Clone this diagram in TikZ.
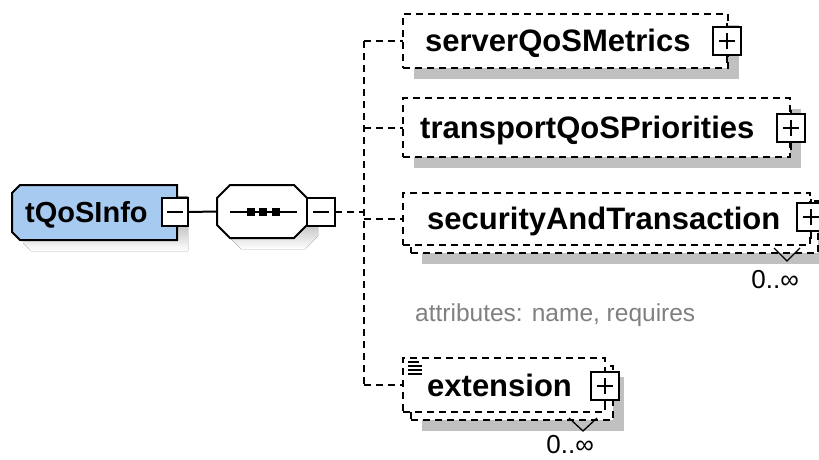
\documentclass[tikz,border=0pt]{standalone}
\usepackage{fontspec}
\setmainfont{Liberation Sans}
\usetikzlibrary{calc}
\definecolor{shade}{HTML}{C0C0C0}
\definecolor{typefill}{HTML}{A6CAF0}
\definecolor{attrgray}{HTML}{808080}

\tikzset{
  solidline/.style={line width=2pt},
  dashline/.style={line width=2pt, dash pattern=on 7pt off 5pt},
  elembox/.style={draw, fill=white, line width=2pt, dash pattern=on 7pt off 5pt,
    inner sep=0pt, outer sep=0pt, anchor=north west},
  shadowbox/.style={fill=shade, draw=none, inner sep=0pt, outer sep=0pt, anchor=north west},
  anchorbox/.style={inner sep=0pt, outer sep=0pt, anchor=north west},
  elemname/.style={font=\fontsize{31}{31}\selectfont\bfseries, inner sep=0pt, anchor=base west},
  occurs/.style={font=\fontsize{26}{26}\selectfont, inner sep=0pt, anchor=base east},
  attrnote/.style={font=\fontsize{24.5}{24.5}\selectfont, text=attrgray, inner sep=0pt, anchor=base west},
  togglebox/.style={draw, fill=white, line width=2pt, minimum width=28pt, minimum height=28pt,
    inner sep=0pt, outer sep=0pt},
  markline/.style={line width=1.3pt},
}

% expand marker: box with a plus and short stubs above and below
\newcommand{\plusmark}[2]{%
  \node[togglebox] (#1) at (#2) {};
  \draw[solidline] ([yshift=4pt]#1.north) -- (#1.north);
  \draw[solidline] (#1.south) -- ([yshift=-8pt]#1.south);
  \draw[solidline] ([xshift=-8pt]#1.center) -- ([xshift=8pt]#1.center);
  \draw[solidline] ([yshift=-8pt]#1.center) -- ([yshift=8pt]#1.center);
}

\begin{document}
\begin{tikzpicture}[x=1pt,y=-1pt]
\useasboundingbox (0,0) rectangle (819,460);
\fill[white] (0,0) rectangle (819,460);

% ---- shadows ----
\fill[shade] (31,196) -- (188,196) -- (188,251) -- (31,251) -- (23,243) -- (23,204) -- cycle;
\fill[shade] (241,196) -- (305,196) -- (318,209) -- (318,236) -- (305,249) -- (241,249) -- (228,236) -- (228,209) -- cycle;
\node[shadowbox, minimum width=325pt, minimum height=54pt] (srvsh) at (414,25) {};
\node[shadowbox, minimum width=387pt, minimum height=59pt] (trash) at (414,109) {};
\node[shadowbox, minimum width=407pt, minimum height=52pt] (secsh) at (422,212) {};
\node[shadowbox, minimum width=202pt, minimum height=54pt] (extsh) at (422,377) {};

% ---- complex type tQoSInfo ----
\node[anchorbox, minimum width=165pt, minimum height=55pt] (tq) at (12,185) {};
\draw[solidline, fill=typefill] (20,185) -- (177,185) -- (177,240) -- (20,240) -- (12,232) -- (12,193) -- cycle;
\node[font=\fontsize{29}{29}\selectfont\bfseries, inner sep=0pt, anchor=base west] (tqname) at (25,222) {tQoSInfo};
\node[togglebox, minimum width=26pt] (tqm) at (175,212) {};
\draw[solidline] ([xshift=-8pt]tqm.center) -- ([xshift=8pt]tqm.center);

% ---- sequence compositor ----
\node[anchorbox, minimum width=90pt, minimum height=53pt] (seq) at (217,185) {};
\draw[solidline, fill=white] (230,185) -- (294,185) -- (307,198) -- (307,225) -- (294,238) -- (230,238) -- (217,225) -- (217,198) -- cycle;
\draw[solidline] (230,212) -- (297,212);
\foreach \cx in {251,263,276} \fill (\cx-4,208) rectangle (\cx+4,216);
\node[togglebox] (seqm) at (321,212) {};
\draw[solidline] ([xshift=-8pt]seqm.center) -- ([xshift=8pt]seqm.center);

\draw[solidline] (tqm.east) -- (seq.west);

% ---- element boxes (anchors for connectors) ----
\node[anchorbox, minimum width=325pt, minimum height=54pt] (srv) at (403,14) {};
\node[anchorbox, minimum width=387pt, minimum height=59pt] (tra) at (403,98) {};
\node[anchorbox, minimum width=407pt, minimum height=52pt] (sec) at (403,193) {};
\node[anchorbox, minimum width=202pt, minimum height=54pt] (ext) at (403,358) {};

% ---- connectors ----
\coordinate (trunk) at (364,0);
\draw[dashline] (srv.west -| trunk) -- (ext.west -| trunk);
\draw[dashline] (seqm.east) -- (seqm.east -| trunk);
\draw[dashline] (srv.west -| trunk) -- (srv.west);
\draw[dashline] (tra.west -| trunk) -- (tra.west);
\draw[dashline] (sec.west -| trunk) -- (sec.west);
\draw[dashline] (ext.west -| trunk) -- (ext.west);

% ---- serverQoSMetrics ----
\node[elembox, minimum width=325pt, minimum height=54pt] (srvbox) at (403,14) {};
\node[elemname] (srvname) at (425,52) {serverQoSMetrics};
\plusmark{srvp}{727,41}

% ---- transportQoSPriorities ----
\node[elembox, minimum width=387pt, minimum height=59pt] (trabox) at (403,98) {};
\node[elemname] (traname) at (420,138) {transportQoSPriorities};
\plusmark{trap}{791,128}

% ---- securityAndTransaction (repeating) ----
\node[elembox, minimum width=407pt, minimum height=52pt] (secback) at (411,201) {};
\node[elembox, minimum width=407pt, minimum height=52pt] (secbox) at (403,193) {};
\node[elemname] (secname) at (427,229) {securityAndTransaction};
\plusmark{secp}{811,217}
\draw[markline] (774,248) -- (787,261) -- (800,248);
\node[occurs] (secocc) at (799,288) {0..∞};
\node[attrnote] (secattr) at (415,321) {attributes: name, requires};

% ---- extension (repeating) ----
\node[elembox, minimum width=202pt, minimum height=54pt] (extback) at (411,366) {};
\node[elembox, minimum width=202pt, minimum height=54pt] (extbox) at (403,358) {};
\node[elemname] (extname) at (427,396) {extension};
\plusmark{extp}{605,386}
\draw[markline] (408,362) -- (419,362);
\foreach \ly in {366,370,374} \draw[markline] (408,\ly) -- (422,\ly);
\draw[markline] (569,418) -- (583,431) -- (597,418);
\node[occurs] (extocc) at (594,453) {0..∞};
\end{tikzpicture}
\end{document}
